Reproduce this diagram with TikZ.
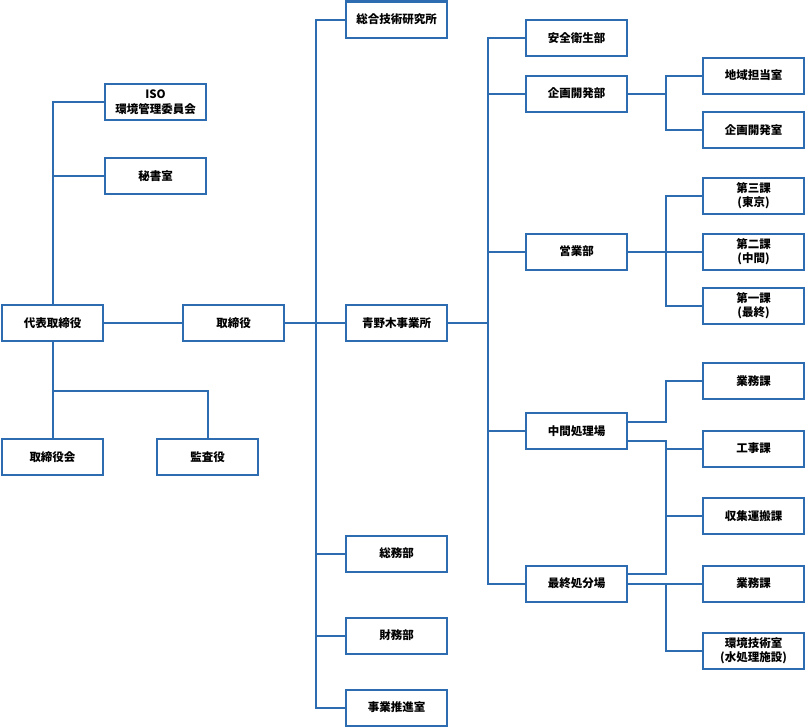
\documentclass[tikz,border=0pt]{standalone}
\usepackage{fontspec}
\setmainfont{Noto Sans CJK JP}
\definecolor{orgblue}{RGB}{46,108,178}

\begin{document}
\begin{tikzpicture}[x=1pt,y=-1pt,line width=2pt,
	box/.style={draw=orgblue,line width=2pt,minimum width=101pt,minimum height=36pt,
		inner sep=1pt,align=center,font=\fontsize{11.5}{14.5}\selectfont\bfseries}]
\useasboundingbox (0,0) rectangle (807,728);

\node[box] (iso) at (155.5,102) {ISO\\環境管理委員会};
\node[box] (hisho) at (155.5,176) {秘書室};
\node[box] (daihyo) at (52.5,323) {代表取締役};
\node[box] (torishimari) at (233.5,323) {取締役};
\node[box] (torikai) at (52.5,457) {取締役会};
\node[box] (kansa) at (207.5,457) {監査役};

\node[box] (soken) at (396.5,19.5) {総合技術研究所};
\node[box] (aonoki) at (396.5,323) {青野木事業所};
\node[box] (somu) at (396.5,553.5) {総務部};
\node[box] (zaimu) at (396.5,635.5) {財務部};
\node[box] (suishin) at (396.5,707.5) {事業推進室};

\node[box] (anzen) at (576.5,38) {安全衛生部};
\node[box] (kikaku) at (576.5,93.5) {企画開発部};
\node[box] (eigyo) at (576.5,251.5) {営業部};
\node[box] (chukan) at (576.5,431) {中間処理場};
\node[box] (saishu) at (576.5,583.5) {最終処分場};

\node[box] (chiiki) at (753.5,75.5) {地域担当室};
\node[box] (kikakushitsu) at (753.5,130) {企画開発室};
\node[box] (ka3) at (753.5,195.5) {第三課\\(東京)};
\node[box] (ka2) at (753.5,251.5) {第二課\\(中間)};
\node[box] (ka1) at (753.5,305.5) {第一課\\(最終)};
\node[box] (gyomuA) at (753.5,381) {業務課};
\node[box] (koji) at (753.5,448.5) {工事課};
\node[box] (shushu) at (753.5,516) {収集運搬課};
\node[box] (gyomuB) at (753.5,583.5) {業務課};
\node[box] (kankyo) at (753.5,651) {環境技術室\\(水処理施設)};

\coordinate (jA) at (52.5,391);
\coordinate (jB) at (316,323);
\coordinate (jC) at (488,323);
\coordinate (jD) at (666,93.5);
\coordinate (jE) at (666,251.5);
\coordinate (jF) at (666,0);

\begin{scope}
\color{orgblue}
\draw (daihyo.north) |- (iso.west);
\draw (daihyo.north) |- (hisho.west);
\draw (daihyo.south) -- (torikai.north);
\draw (jA) -| (kansa.north);
\draw (daihyo) -- (torishimari);
\draw (torishimari) -- (aonoki);
\foreach \n in {soken,somu,zaimu,suishin}{
	\draw (jB) |- (\n.west);
}
\draw (aonoki) -- (jC);
\foreach \n in {anzen,kikaku,eigyo,chukan,saishu}{
	\draw (jC) |- (\n.west);
}
\draw (kikaku) -- (jD);
\foreach \n in {chiiki,kikakushitsu}{
	\draw (jD) |- (\n.west);
}
\draw (eigyo) -- (jE);
\foreach \n in {ka3,ka2,ka1}{
	\draw (jE) |- (\n.west);
}
\draw ([yshift=9.5pt]chukan.east) -| (jF |- gyomuA.west) -- (gyomuA.west);
\draw ([yshift=-9.5pt]chukan.east) -| ([yshift=9.5pt]saishu.east -| jF)
	-- ([yshift=9.5pt]saishu.east);
\foreach \n in {koji,shushu}{
	\draw (\n.west -| jF) -- (\n.west);
}
\draw (saishu) -- (gyomuB);
\draw (saishu.east -| jF) |- (kankyo.west);
\end{scope}

\end{tikzpicture}
\end{document}
